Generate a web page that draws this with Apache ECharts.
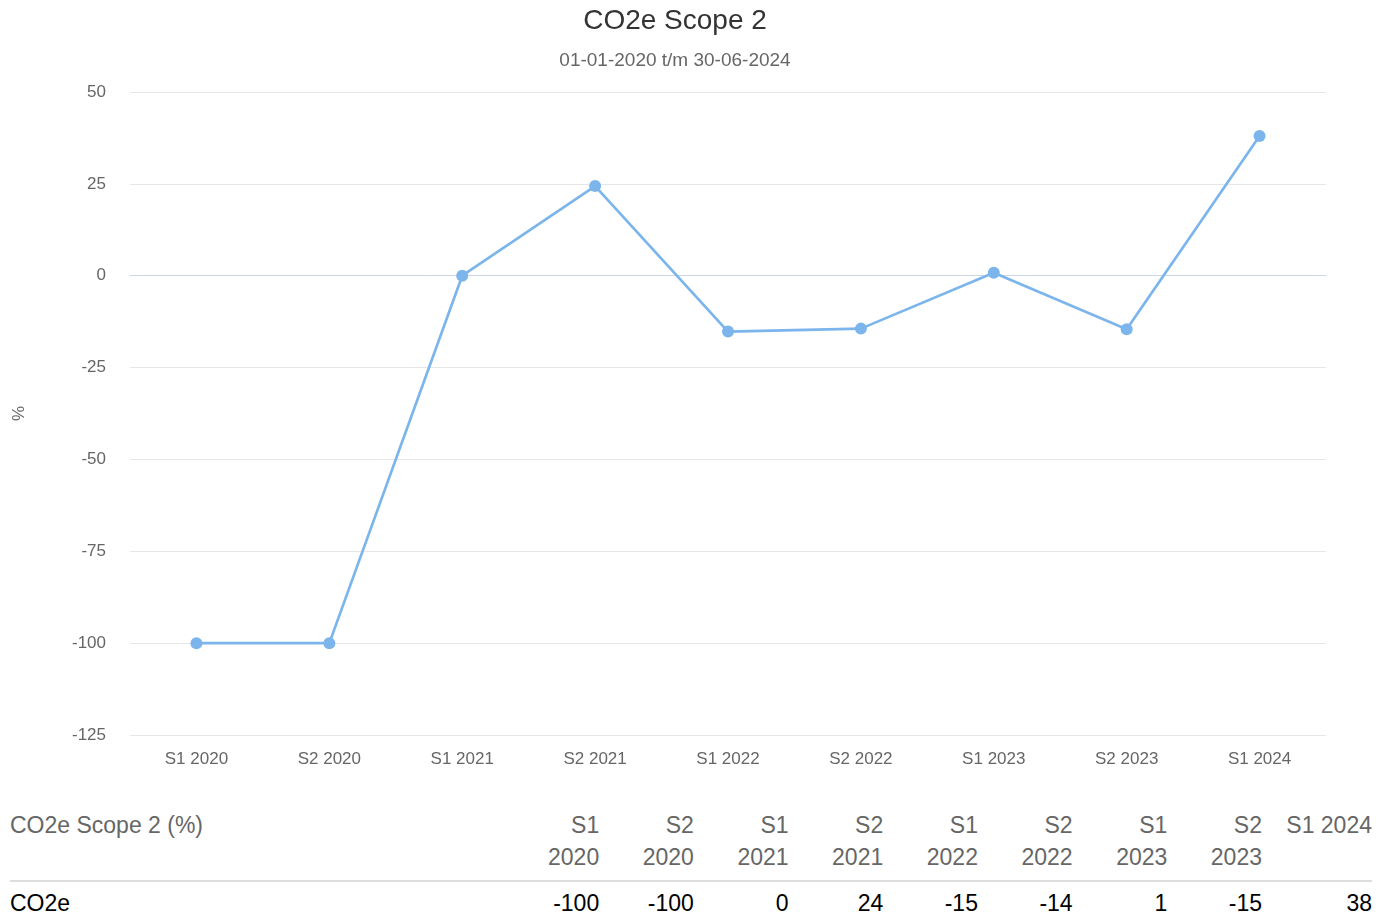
<!DOCTYPE html>
<html>
<head>
<meta charset="utf-8">
<script src="https://cdn.jsdelivr.net/npm/echarts@6/dist/echarts.min.js"></script>
<style>
  html, body { margin: 0; padding: 0; background: #fff; }
  body { width: 1390px; height: 921px; position: relative; overflow: hidden; font-family: 'Liberation Sans', Arial, sans-serif; }
  #chart { position: absolute; left: 0; top: 0; width: 1390px; height: 790px; }
  .data-table { position: absolute; left: 10px; top: 795px; width: 1362px; border-collapse: collapse; table-layout: fixed; font-size: 23px; line-height: 32px; }
  .data-table th { font-weight: normal; color: #666; text-align: right; padding: 14px 0 7px 14px; vertical-align: top; }
  .data-table th.cap { text-align: left; padding-left: 0; }
  .data-table thead tr { border-bottom: 2px solid #ddd; }
  .data-table td { color: #000; text-align: right; padding: 5px 0 0 14px; }
  .data-table td.cap { text-align: left; padding-left: 0; }
  .data-table th.last { white-space: nowrap; }
</style>
</head>
<body>
<div id="chart"></div>
<table class="data-table" id="tbl"></table>
<script>
const chartTitle = 'CO2e Scope 2'
const chartSubtitle = '01-01-2020 t/m 30-06-2024'
const categories = ['S1 2020', 'S2 2020', 'S1 2021', 'S2 2021', 'S1 2022', 'S2 2022', 'S1 2023', 'S2 2023', 'S1 2024']
const co2eValues = [-100, -100, 0, 24.4, -15.2, -14.4, 0.8, -14.6, 38]
const seriesName = 'CO2e'
const yTicks = { min: -125, max: 50, interval: 25 }

const chart = echarts.init(document.getElementById('chart'))
const font = "'Liberation Sans', Arial, sans-serif"

chart.setOption({
  animation: false,
  title: {
    text: chartTitle,
    subtext: chartSubtitle,
    left: 670,
    textAlign: 'center',
    top: 2,
    itemGap: 16,
    textStyle: { color: '#333', fontSize: 28, fontWeight: 'normal', fontFamily: font },
    subtextStyle: { color: '#666', fontSize: 19, fontFamily: font },
  },
  grid: { left: 130, right: 64, top: 92, bottom: 55, outerBoundsMode: 'none' },
  xAxis: {
    type: 'category',
    data: categories,
    boundaryGap: true,
    axisLine: { lineStyle: { color: '#ccd6eb', width: 1 } },
    axisTick: { show: false },
    axisLabel: { color: '#666', fontSize: 17, fontFamily: font, margin: 16 },
  },
  yAxis: {
    type: 'value',
    min: yTicks.min,
    max: yTicks.max,
    interval: yTicks.interval,
    name: '%',
    nameLocation: 'middle',
    nameRotate: 90,
    nameGap: 102,
    nameTextStyle: { color: '#666', fontSize: 17, fontFamily: font },
    axisLine: { show: false },
    axisTick: { show: false },
    axisLabel: { color: '#666', fontSize: 17, fontFamily: font, margin: 24 },
    splitLine: { lineStyle: { color: '#e6e6e6', width: 1 } },
  },
  series: [{
    name: seriesName,
    type: 'line',
    data: co2eValues,
    symbol: 'circle',
    symbolSize: 12,
    lineStyle: { color: '#7cb5ec', width: 2.7 },
    itemStyle: { color: '#7cb5ec' },
  }],
})

// data table under the chart
const tbl = document.getElementById('tbl')
let html = '<colgroup><col>'
categories.forEach((c, i) => {
  html += `<col style="width:${i === categories.length - 1 ? 110 : 94.7}px">`
})
html += '</colgroup><thead><tr><th class="cap">' + chartTitle + ' (%)</th>'
categories.forEach((c, i) => {
  html += `<th${i === categories.length - 1 ? ' class="last"' : ''}>${c}</th>`
})
html += '</tr></thead><tbody><tr><td class="cap">' + seriesName + '</td>'
co2eValues.forEach(v => { html += `<td>${Math.round(v)}</td>` })
html += '</tr></tbody>'
tbl.innerHTML = html
</script>
</body>
</html>
